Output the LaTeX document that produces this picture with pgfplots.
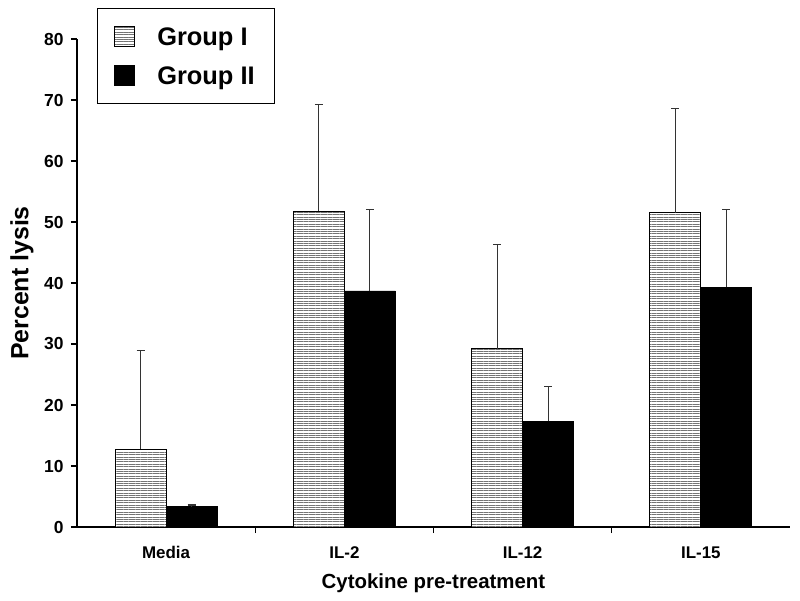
\documentclass[border=0pt]{standalone}
\usepackage{fontspec}
\setmainfont{Liberation Sans}
\usepackage{pgfplots}
\pgfplotsset{compat=1.18}
\usetikzlibrary{patterns.meta}
\begin{document}
\begin{tikzpicture}[x=1bp,y=1bp]
\begin{axis}[
  scale only axis,
  width=713bp, height=488bp,
  at={(0bp,0bp)}, anchor=south west,
  ybar=0pt, bar width=51bp,
  xmin=-0.5, xmax=3.5,
  ymin=0, ymax=80,
  ytick={0,10,...,80},
  xtick={0,1,2,3},
  xticklabels={Media,IL-2,IL-12,IL-15},
  minor xtick={0.5,1.5,2.5},
  axis x line=bottom, axis y line=left,
  axis line style={-, line width=1.5bp},
  tick style={line width=1.2bp, black},
  major x tick style={draw=none},
  major tick length=6bp, minor tick length=6bp,
  tick align=outside,
  /pgf/number format/assume math mode=true,
  yticklabel style={font=\fontsize{17.5}{19}\selectfont\bfseries, xshift=-4bp},
  xticklabel style={font=\fontsize{17}{19}\selectfont\bfseries, yshift=-10bp},
  ylabel={Percent lysis},
  xlabel={Cytokine pre-treatment},
  ylabel style={font=\fontsize{25}{28}\selectfont\bfseries, at={(axis description cs:-0.0771,0.5)}, anchor=center},
  xlabel style={font=\fontsize{20.5}{23}\selectfont\bfseries, at={(axis description cs:0.5,-0.1148)}, anchor=center},
  legend style={at={(axis description cs:0.02805,1.0635)}, anchor=north west,
    draw=black, line width=1bp, inner xsep=17bp, inner ysep=14bp, row sep=11bp,
    font=\fontsize{25.5}{28}\selectfont\bfseries,
    nodes={text height=20bp, text depth=2bp, inner sep=3bp},
    /tikz/every odd column/.append style={column sep=19bp}},
  legend cell align=left,
  error bars/y dir=plus, error bars/y explicit,
  error bars/error bar style={line width=1.2bp, black!80},
  error bars/error mark options={rotate=90, mark size=4bp, line width=1.2bp, black!80},
]
\addplot[draw=black, line width=0.8bp, fill=white,
  postaction={pattern={Lines[angle=0, distance=2.4bp, line width=0.9bp]}, pattern color=black!55},
  legend image code/.code={\draw[draw=black, line width=0.8bp, fill=white, postaction={pattern={Lines[angle=0, distance=2.4bp, line width=0.9bp]}, pattern color=black!55}] (0bp,-10bp) rectangle (20bp,10bp);}]
  coordinates {(0,12.8) +- (0,16.1) (1,51.8) +- (0,17.5) (2,29.2) +- (0,17.1) (3,51.5) +- (0,17.1)};
\addlegendentry{Group I}
\addplot[draw=black, line width=0.8bp, fill=black,
  legend image code/.code={\draw[draw=black, fill=black] (0bp,-10bp) rectangle (20bp,10bp);}]
  coordinates {(0,3.3) +- (0,0.3) (1,38.7) +- (0,13.3) (2,17.3) +- (0,5.7) (3,39.3) +- (0,12.8)};
\addlegendentry{Group II}
\end{axis}
\pgfresetboundingbox
\path[use as bounding box] (-77bp,-74bp) rectangle (723bp,527bp);
\end{tikzpicture}
\end{document}
